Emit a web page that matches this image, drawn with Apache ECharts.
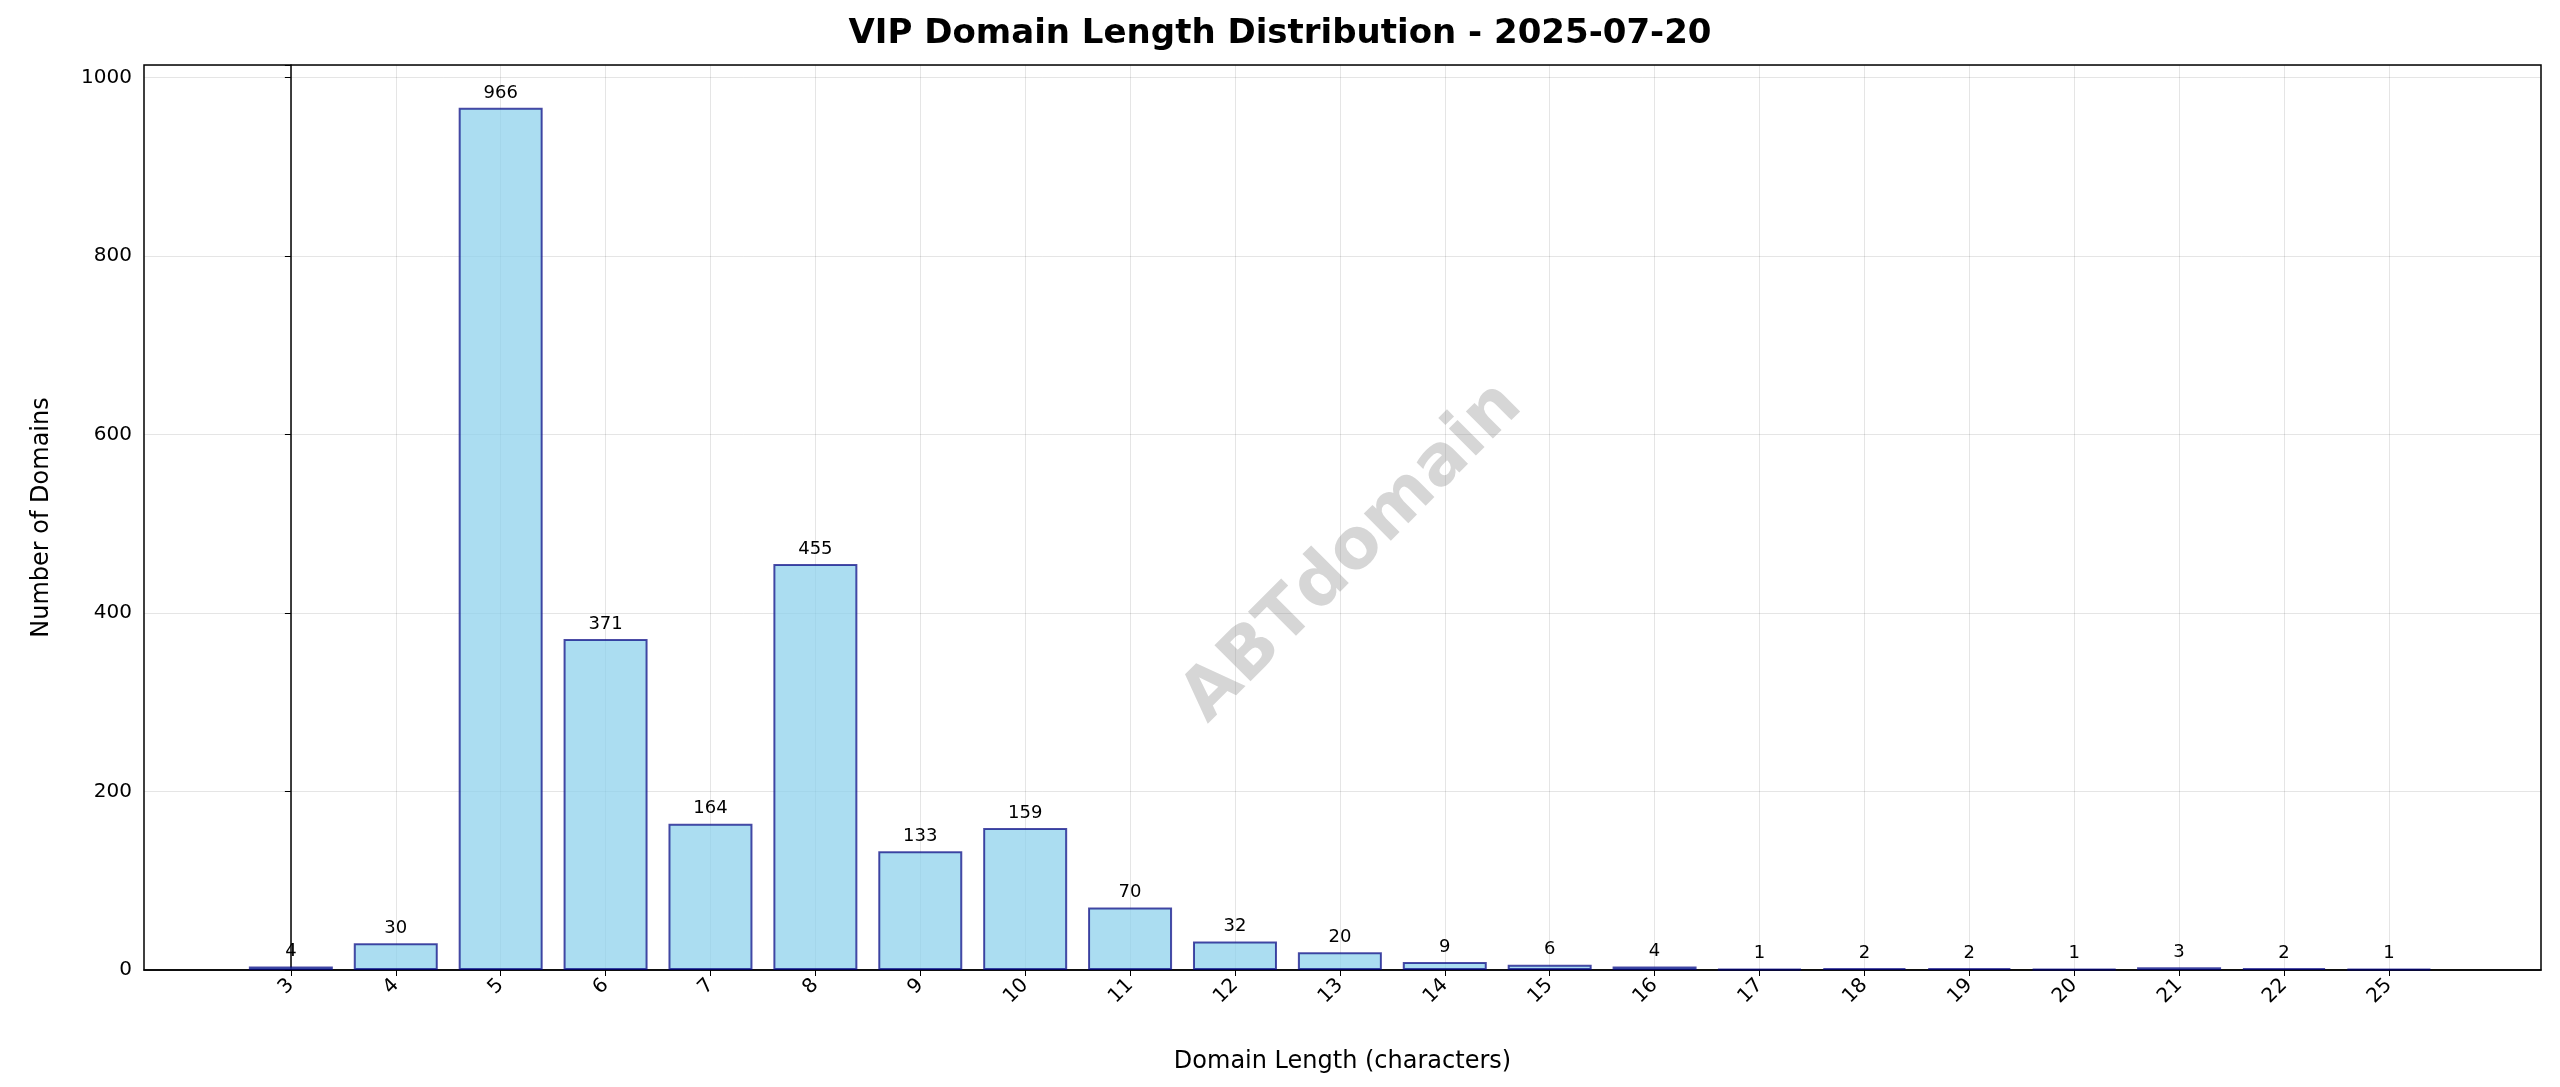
<!DOCTYPE html>
<html>
<head>
<meta charset="utf-8">
<script src="https://cdn.jsdelivr.net/npm/echarts@6/dist/echarts.min.js"></script>
<style>html,body{margin:0;padding:0;background:#fff}#chart{width:2560px;height:1087px}</style>
</head>
<body>
<div id="chart"></div>
<script>
var lengths = ['3', '4', '5', '6', '7', '8', '9', '10', '11', '12', '13', '14', '15', '16', '17', '18', '19', '20', '21', '22', '25'];
var counts = [4, 30, 966, 371, 164, 455, 133, 159, 70, 32, 20, 9, 6, 4, 1, 2, 2, 1, 3, 2, 1];

var chart = echarts.init(document.getElementById('chart'));
var positions = lengths.map(function (l, i) { return i; });
var barData = counts.map(function (c, i) { return [i, c]; });
var font = 'DejaVu Sans';

chart.setOption({
  animation: false,
  title: {
    text: 'VIP Domain Length Distribution - 2025-07-20',
    left: 'center',
    top: 12,
    textStyle: { fontFamily: font, fontSize: 34, fontWeight: 'bold', color: '#000' }
  },
  grid: {
    left: 144, right: 19, top: 65, bottom: 117,
    show: true, borderColor: '#000', borderWidth: 1.5
  },
  graphic: [{
    type: 'text',
    left: 1170, top: 370,
    rotation: Math.PI / 4,
    originX: 210, originY: 35,
    style: { text: 'ABTdomain', fontFamily: font, fontSize: 70, fontWeight: 'bold', fill: 'rgba(128,128,128,0.32)' },
    z: 100
  }],
  xAxis: {
    type: 'value',
    min: -1.4,
    max: 21.45,
    name: 'Domain Length (characters)',
    nameLocation: 'middle',
    nameGap: 80,
    nameTextStyle: { fontFamily: font, fontSize: 24, color: '#000' },
    axisLine: { show: true, lineStyle: { color: '#000', width: 1.5 } },
    axisTick: { show: true, customValues: positions, length: 6, lineStyle: { color: '#000' } },
    axisLabel: {
      customValues: positions,
      rotate: 45,
      fontFamily: font, fontSize: 20, color: '#000', margin: 12,
      formatter: function (v) { return lengths[Math.round(v)]; }
    },
    splitLine: { show: true, lineStyle: { color: 'rgba(0,0,0,0.1)', width: 1 } }
  },
  yAxis: {
    type: 'value',
    min: 0,
    max: 1014,
    interval: 200,
    name: 'Number of Domains',
    nameLocation: 'middle',
    nameGap: 90,
    nameTextStyle: { fontFamily: font, fontSize: 24, color: '#000' },
    axisLine: { show: true, lineStyle: { color: '#000', width: 1.5 } },
    axisTick: { show: true, length: 6, lineStyle: { color: '#000' } },
    axisLabel: {
      fontFamily: font, fontSize: 20, color: '#000', margin: 12,
      formatter: function (v) { return v > 1000 ? '' : String(v); }
    },
    splitLine: { show: true, lineStyle: { color: 'rgba(0,0,0,0.1)', width: 1 } }
  },
  series: [{
    type: 'bar',
    data: barData,
    barWidth: 84,
    itemStyle: { color: 'rgba(135,206,235,0.7)', borderColor: 'rgba(0,0,128,0.7)', borderWidth: 2 },
    label: {
      show: true, position: 'top', distance: 6,
      fontFamily: font, fontSize: 18, color: '#000',
      formatter: function (p) { return p.value[1]; }
    }
  }]
});
</script>
</body>
</html>
